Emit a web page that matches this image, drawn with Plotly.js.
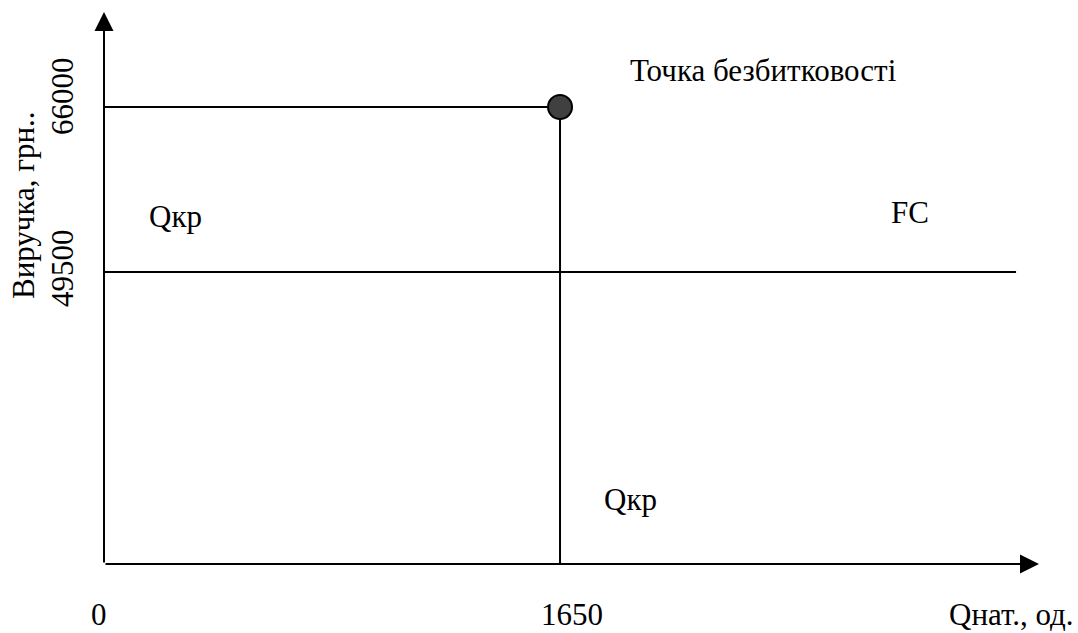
<!DOCTYPE html>
<html>
<head>
<meta charset="utf-8">
<script src="https://cdn.plot.ly/plotly-3.0.1.min.js"></script>
<style>html,body{margin:0;padding:0;background:#fff;}#chart{width:1078px;height:633px;}</style>
</head>
<body>
<div id="chart"></div>
<script>
// Data
const qCritical = 1650;          // Qкр, од.
const revenueAtBreakEven = 66000; // грн.
const fixedCosts = 49500;        // FC, грн.
const fcLineEnd = 3300;
const xMax = 3383;
const yMin = 20300;
const yMax = 75500;
const xTickLabels = ["0", "1650", "Qнат., од."];
const yTickLabels = ["66000", "49500"];
const yTitle = "Виручка, грн..";
const labels = {point: "Точка безбитковості", qkr: "Qкр", fc: "FC"};

const W = 1078, H = 633, L = 104, R = 1039, T = 12, B = 564;
const px = x => (x - L) / (R - L);
const py = y => (B - y) / (B - T);

const FONT = {family: "'Liberation Serif', 'Times New Roman', serif", size: 31, color: "#000"};
const lineStyle = {color: "#000", width: 2};

const traces = [
  {x: [0, qCritical], y: [revenueAtBreakEven, revenueAtBreakEven], mode: "lines", line: lineStyle, cliponaxis: false},
  {x: [qCritical, qCritical], y: [yMin, revenueAtBreakEven], mode: "lines", line: lineStyle, cliponaxis: false},
  {x: [0, fcLineEnd], y: [fixedCosts, fixedCosts], mode: "lines", line: lineStyle, cliponaxis: false},
  {x: [qCritical], y: [revenueAtBreakEven], mode: "markers", cliponaxis: false,
   marker: {size: 24, color: "#404040", line: {color: "#000", width: 2}}}
];

function txt(text, x, y, opts) {
  return Object.assign({text: text, xref: "paper", yref: "paper", x: px(x), y: py(y),
    showarrow: false, font: FONT, xanchor: "center", yanchor: "middle", borderpad: 0}, opts || {});
}

const annotations = [
  // axes arrows
  {x: xMax, y: yMin, ax: 0, ay: yMin, xref: "x", yref: "y", axref: "x", ayref: "y",
   text: "", showarrow: true, arrowhead: 2, arrowsize: 1.9, arrowwidth: 2, arrowcolor: "#000", standoff: 0, startstandoff: 0},
  {x: 0, y: yMax, ax: 0, ay: yMin, xref: "x", yref: "y", axref: "x", ayref: "y",
   text: "", showarrow: true, arrowhead: 2, arrowsize: 1.9, arrowwidth: 2, arrowcolor: "#000", standoff: 0, startstandoff: 0},
  txt(labels.point, 629, 70, {xanchor: "left"}),
  txt(labels.qkr, 175, 216),
  txt(labels.fc, 910, 213),
  txt(labels.qkr, 630, 499),
  txt(xTickLabels[0], 99, 614),
  txt(xTickLabels[1], 572, 614),
  txt(xTickLabels[2], 1075, 614, {xanchor: "right"}),
  txt(yTickLabels[0], 62, 96, {textangle: -90}),
  txt(yTickLabels[1], 62, 268, {textangle: -90}),
  txt(yTitle, 23, 205, {textangle: -90})
];

const axisCommon = {showgrid: false, zeroline: false, showticklabels: false, showline: false, ticks: "", fixedrange: true};

const layout = {
  width: W, height: H,
  margin: {l: L, r: W - R, t: T, b: H - B, pad: 0},
  paper_bgcolor: "#fff", plot_bgcolor: "#fff",
  showlegend: false, hovermode: false,
  xaxis: Object.assign({range: [0, xMax]}, axisCommon),
  yaxis: Object.assign({range: [yMin, yMax]}, axisCommon),
  annotations: annotations
};

Plotly.newPlot("chart", traces, layout, {displayModeBar: false, staticPlot: true});
</script>
</body>
</html>
